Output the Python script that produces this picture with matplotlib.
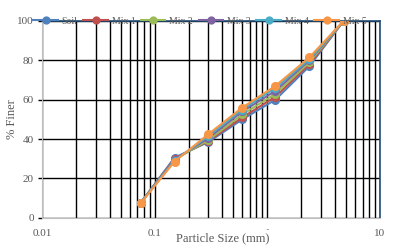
import matplotlib.pyplot as plt
from matplotlib.ticker import LogLocator, NullFormatter, FixedLocator, FixedFormatter

# sieve sizes (mm) and percent finer for each blend
sizes = [0.075, 0.15, 0.3, 0.6, 1.18, 2.36, 4.75]
soil = [7.5, 30.5, 38.5, 50.0, 60.0, 77.0, 100.0]
mix1 = [7.5, 30.0, 39.0, 51.0, 61.5, 78.0, 100.0]
mix2 = [7.5, 29.5, 39.5, 52.5, 63.0, 79.0, 100.0]
mix3 = [7.5, 29.5, 40.5, 54.0, 64.5, 80.0, 100.0]
mix4 = [7.5, 29.0, 41.5, 55.0, 66.0, 80.5, 100.0]
mix5 = [7.3, 28.5, 42.5, 56.0, 67.0, 81.5, 100.0]

series = [("Soil", soil), ("Mix 1", mix1), ("Mix 2", mix2),
          ("Mix 3", mix3), ("Mix 4", mix4), ("Mix 5", mix5)]
colors = ["#4F81BD", "#C0504D", "#9BBB59", "#8064A2", "#4BACC6", "#F79646"]

plt.rcParams['font.family'] = ['Liberation Serif', 'DejaVu Serif']
txt = "#595959"

fig = plt.figure(figsize=(3.96, 2.5), dpi=100)
ax = fig.add_axes([42/396, 1 - 217.7/250, 338/396, 196.7/250])

for (name, vals), c in zip(series, colors):
    ax.plot(sizes, vals, color=c, lw=1.5, marker='o', ms=5.5,
            mec=c, mfc=c, label=name, zorder=3)

ax.set_xscale('log')
ax.set_xlim(0.01, 10)
ax.set_ylim(0, 100)
ax.set_yticks([0, 20, 40, 60, 80, 100])

ax.xaxis.set_major_locator(FixedLocator([0.01, 0.1, 1, 10]))
ax.xaxis.set_major_formatter(FixedFormatter(["0.01", "0.1", "1", "10"]))
ax.xaxis.set_minor_locator(LogLocator(base=10, subs=range(2, 10)))
ax.xaxis.set_minor_formatter(NullFormatter())

ax.grid(True, which='both', axis='x', color='black', lw=1.0, zorder=1)
ax.grid(True, which='major', axis='y', color='black', lw=1.0, zorder=1)

ax.tick_params(axis='x', which='both', length=0, labelsize=8,
               labelcolor=txt, pad=8)
ax.tick_params(axis='y', length=3, width=1, color='black',
               labelsize=8, labelcolor=txt, pad=3)

for s in ['left', 'bottom']:
    ax.spines[s].set_color('#BFBFBF')
for s in ['top', 'right']:
    ax.spines[s].set_color('#1F4E79')
    ax.spines[s].set_linewidth(1.2)

ax.set_ylabel("% Finer", fontsize=9, color=txt)
ax.yaxis.set_label_coords(-0.072, 0.5)
ax.set_xlabel("Particle Size (mm)", fontsize=9, color=txt,
              bbox=dict(facecolor='white', edgecolor='none', pad=1))
ax.xaxis.set_label_coords((223 - 42) / 338, -0.072)

ax.legend(loc='center', bbox_to_anchor=(0.467, 1.0), ncol=6, frameon=False,
          fontsize=7, labelcolor=txt, handlelength=2.5, handletextpad=0.4,
          columnspacing=0.6, markerscale=0.9, borderaxespad=0)

fig.savefig("out.png", dpi=100)
